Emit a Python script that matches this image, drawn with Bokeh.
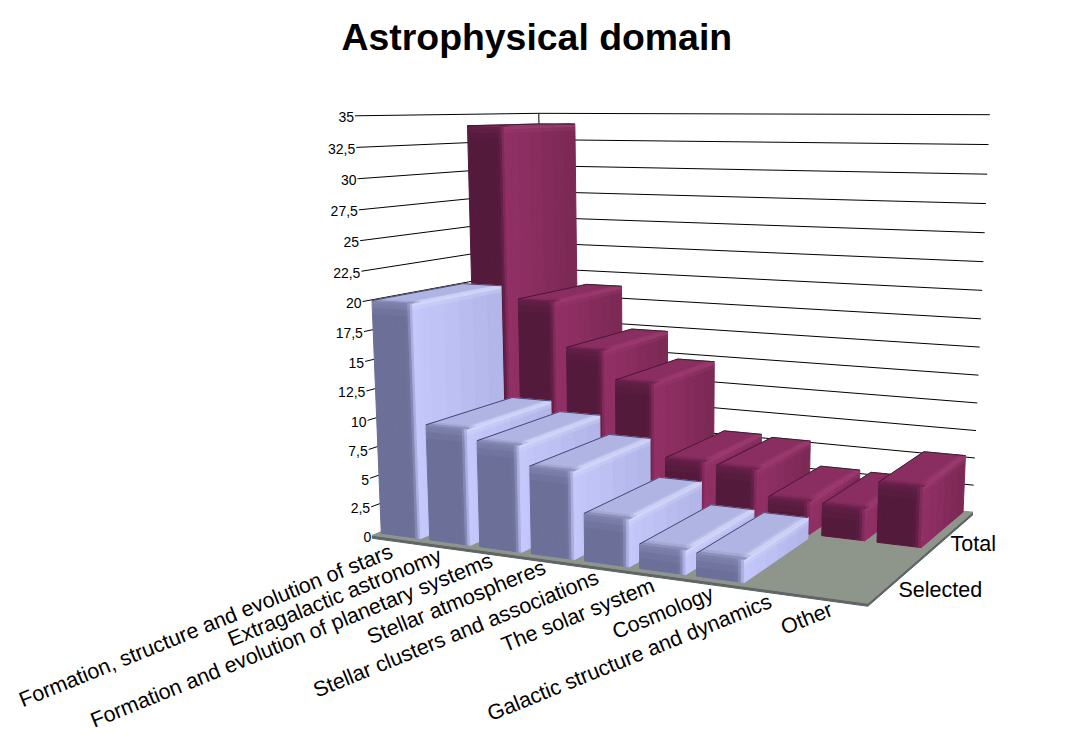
import numpy as np
from bokeh.plotting import figure
from bokeh.embed import file_html
from bokeh.resources import INLINE
from bokeh.core.properties import value

title_text = "Astrophysical domain"
categories = ["Formation, structure and evolution of stars", "Extragalactic astronomy",
              "Formation and evolution of planetary systems", "Stellar atmospheres",
              "Stellar clusters and associations", "The solar system", "Cosmology",
              "Galactic structure and dynamics", "Other"]
series_names = ["Selected", "Total"]
selected = [20.0, 9.9, 9.0, 7.35, 3.95, 2.0, 1.85, 0.0, 0.0]
total = [34.0, 18.7, 14.6, 12.0, 5.4, 5.2, 2.9, 2.8, 5.2]
tick_values = [0, 2.5, 5, 7.5, 10, 12.5, 15, 17.5, 20, 22.5, 25, 27.5, 30, 32.5, 35]
tick_labels = ["0", "2,5", "5", "7,5", "10", "12,5", "15", "17,5", "20", "22,5", "25", "27,5", "30", "32,5", "35"]

# camera calibration: (category, depth, value) -> page pixel
calib = [((0, 0, 0), (373, 537)), ((9, 0, 0), (868, 605)), ((9, 2, 0), (973, 513)),
         ((0, 0, 35), (356, 117)), ((0, 2, 35), (539, 115)), ((9, 2, 35), (990, 116)),
         ((0, 0, 17.5), (364, 333)), ((9, 2, 17.5), (982, 321))]
A, b = [], []
for (w, (px, py)) in calib:
    X = [w[0], w[1], w[2], 1]
    A.append(X + [0, 0, 0, 0] + [-px * c for c in X[:3]]); b.append(px)
    A.append([0, 0, 0, 0] + X + [-py * c for c in X[:3]]); b.append(py)
sol = np.linalg.lstsq(np.array(A, float), np.array(b, float), rcond=None)[0]
P = np.append(sol, 1.0).reshape(3, 4)


def proj(u, v, z):
    h = P @ np.array([u, v, z, 1.0])
    return float(h[0] / h[2]), float(h[1] / h[2])


W, H = 1057, 733
OX, OY = 1, 2
p = figure(width=W, height=H, x_range=(OX, OX + W), y_range=(OY + H, OY), output_backend="svg",
           toolbar_location=None, x_axis_location=None, y_axis_location=None, min_border=0,
           outline_line_color=None)
p.grid.visible = False
FONT = "Liberation Sans"


def poly(pts):
    q = [proj(*t) for t in pts]
    return [a for a, _ in q], [c for _, c in q]


# walls
glx, gly = [], []
for z in tick_values[1:]:
    a, c = poly([(0, 0, z), (0, 2, z), (9, 2, z)])
    glx.append(a); gly.append(c)
cx, cy = poly([(0, 2, 30), (0, 2, 35)])
glx.append(cx); gly.append(cy)
p.multi_line(glx, gly, line_color="#000000", line_width=1)

# floor slab
fx, fy = poly([(0, 0, 0), (9, 0, 0), (9, 2, 0), (0, 2, 0)])
sx = [fx[0], fx[1], fx[2], fx[2], fx[1], fx[0]]
sy = [fy[0], fy[1], fy[2], fy[2] + 3, fy[1] + 3, fy[0] + 3]
p.patch(sx, sy, fill_color="#5f6466", line_color="#5f6466")
p.patch(fx, fy, fill_color="#8e958a", line_color="#8e958a")

PAL = {
    "Selected": dict(front=(108, 111, 152), front_top=(128, 131, 174), side=(196, 200, 250), side_back=(176, 180, 232),
                     top=(176, 180, 226), hi=(214, 218, 252), edge="#2a2a60"),
    "Total": dict(front=(84, 26, 60), front_top=(100, 32, 72), side=(146, 48, 102), side_back=(122, 40, 84),
                  top=(138, 46, 98), hi=(158, 58, 112), edge="#3c0f2c"),
}


def mix(a, b, t):
    t = max(0.0, min(1.0, t))
    return tuple(a[i] + (b[i] - a[i]) * t for i in range(3))


def hexc(c):
    return "#%02x%02x%02x" % tuple(int(round(x)) for x in c)


def draw_bar(xs, ys, cs, u0, u1, v0, v1, h, pal):
    ru, rv, rz = 0.10, 0.08, min(0.55, h * 0.3)
    # front
    ustops = [u0] + list(np.linspace(u0 + (u1 - u0) * .15, u1 - ru * 1.6, 4)) + [u1 - ru * 1.0, u1 - ru * .5, u1]
    zstops = [0, h - 2 * rz, h - rz, h - rz * .4, h]
    zstops = sorted(set(max(0, z) for z in zstops))
    for i in range(len(ustops) - 1):
        for j in range(len(zstops) - 1):
            a, e = ustops[i], ustops[i + 1]
            zb, zt = zstops[j], zstops[j + 1]
            s = (e + a) / 2
            zm = (zb + zt) / 2
            c = mix(pal["front"], pal["front_top"], (zm - (h - 2 * rz)) / (2 * rz))
            c = mix(c, pal["side"], max(0.0, (s - (u1 - 1.6 * ru)) / (1.6 * ru)) ** 2)
            x, y = poly([(a, v0, zb), (e, v0, zb), (e, v0, zt), (a, v0, zt)])
            xs.append(x); ys.append(y); cs.append(hexc(c))
    # side
    vstops = [v0, v0 + rv * .5, v0 + rv] + list(np.linspace(v0 + rv * 2, v1, 6))
    for i in range(len(vstops) - 1):
        for j in range(len(zstops) - 1):
            a, e = vstops[i], vstops[i + 1]
            zb, zt = zstops[j], zstops[j + 1]
            s = (a + e) / 2
            zm = (zb + zt) / 2
            c = mix(pal["side"], pal["side_back"], (s - v0) / (v1 - v0))
            c = mix(c, pal["hi"], (zm - (h - rz)) / rz)
            x, y = poly([(u1, a, zb), (u1, e, zb), (u1, e, zt), (u1, a, zt)])
            xs.append(x); ys.append(y); cs.append(hexc(c))
    # top
    ut = [u0, u1 - ru * 1.2, u1 - ru * .6, u1]
    vt = [v0, v0 + rv * .6, v0 + rv * 1.2, v1]
    for i in range(3):
        for j in range(3):
            um = (ut[i] + ut[i + 1]) / 2
            vm = (vt[j] + vt[j + 1]) / 2
            c = mix(pal["top"], pal["hi"], (um - (u1 - ru * 1.2)) / (ru * 1.2))
            c = mix(c, pal["front_top"], 1 - (vm - v0) / (rv * 1.2))
            x, y = poly([(ut[i], vt[j], h), (ut[i + 1], vt[j], h), (ut[i + 1], vt[j + 1], h), (ut[i], vt[j + 1], h)])
            xs.append(x); ys.append(y); cs.append(hexc(c))


rows = [("Total", total, 1.10, 1.98, 0.06, 0.84, 0.0), ("Selected", selected, 0.06, 1.0, 0.06, 0.88, 0.006)]
for name, vals, v0, v1, a0, a1, drift in rows:
    pal = PAL[name]
    for i, h in enumerate(vals):
        if h <= 0:
            continue
        xs, ys, cs = [], [], []
        u0, u1 = i + a0 + drift * i, i + a1 + drift * i
        draw_bar(xs, ys, cs, u0, u1, v0, v1, h, pal)
        p.patches(xs, ys, fill_color=cs, line_color=cs, line_width=1)
        ex, ey = poly([(u0, v0, h), (u0, v1, h), (u1, v1, h)])
        p.line(ex, ey, line_color=pal["edge"], line_width=0.8)

# tick labels
tx, ty = [], []
for z in tick_values:
    a, c = proj(0, 0, z)
    tx.append(a - 1); ty.append(c + 1.5)
p.text(tx, ty, text=tick_labels, text_align="right", text_baseline="middle", text_color="#000000",
       text_font=value(FONT), text_font_size="14px")

# category labels (right ends, page pixels)
label_x = [392, 441, 492, 545, 598, 654, 713, 771, 832]
label_y = [552, 556, 561, 568, 578, 586, 594, 602, 610]
p.text(label_x, label_y, text=categories, angle=0.385, text_align="right", text_baseline="alphabetic",
       text_color="#000000", text_font=value(FONT), text_font_size="21.4px")

# series labels
p.text([951, 899], [545, 591], text=series_names[::-1], text_align="left", text_baseline="alphabetic",
       text_color="#000000", text_font=value(FONT), text_font_size="21.5px")

p.text([342], [38], text=[title_text], text_align="left", text_baseline="alphabetic", text_color="#000000",
       text_font=value(FONT), text_font_style="bold", text_font_size="37.4px")

open("out.html", "w").write(file_html(p, INLINE))
